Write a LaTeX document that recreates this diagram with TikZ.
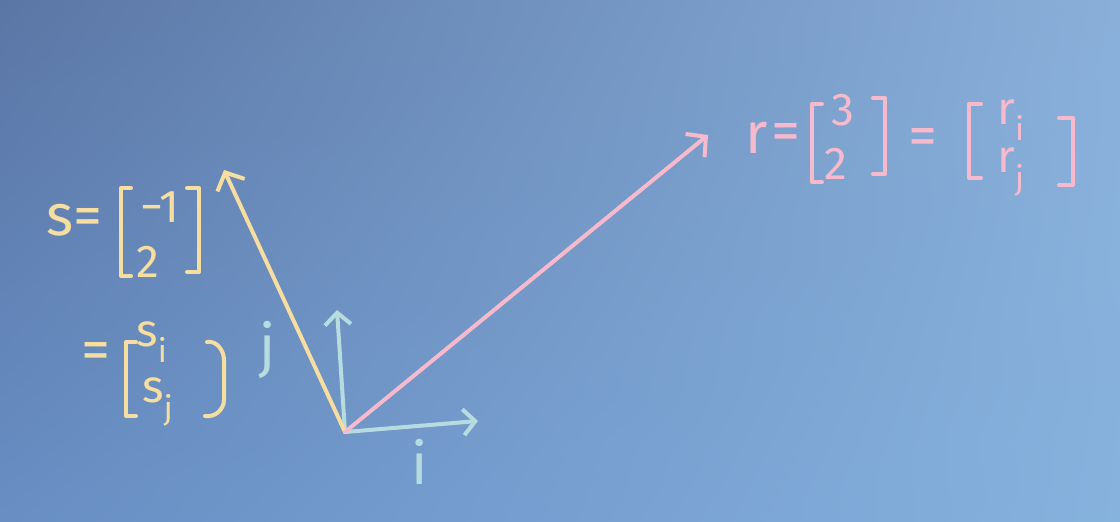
\documentclass[tikz,border=0pt]{standalone}
\usepackage{fontspec}
\setmainfont{Fira Sans}
\usepackage{xcolor}
\usetikzlibrary{arrows.meta}
\usetikzlibrary{shadings}
\definecolor{boardTL}{RGB}{90,118,165}
\definecolor{boardTR}{RGB}{138,176,218}
\definecolor{boardBL}{RGB}{104,142,196}
\definecolor{boardBR}{RGB}{134,178,222}
\definecolor{chalkS}{RGB}{246,222,160}
\definecolor{chalkR}{RGB}{246,186,204}
\definecolor{chalkB}{RGB}{182,220,224}
\tikzset{
	thickness/.style={line width=4pt, line cap=round, line join=round},
	vec/.style={thickness, -{Straight Barb[length=14pt,width=30pt,line width=4pt]}, #1},
	basis/.style={thickness, -{Straight Barb[length=12pt,width=26pt,line width=4pt]}, #1},
	chalk/.style={text=#1, font=\fontsize{58}{60}\selectfont, inner sep=0pt},
	entry/.style={text=#1, font=\fontsize{46}{48}\selectfont, inner sep=0pt},
	brak/.style={thickness, draw=#1},
}
% bracket: colour, x, top, bottom, tick
\newcommand{\brak}[5]{\draw[brak=#1] (#2+#5,#3) -- (#2,#3) -- (#2,#4) -- (#2+#5,#4);}

\begin{document}
\begin{tikzpicture}[x=1pt, y=-1pt]
%The board
\shade[upper left=boardTL, upper right=boardTR, lower left=boardBL, lower right=boardBR]
	(0,0) rectangle (1120,522);
\useasboundingbox (0,0) rectangle (1120,522);

%Place the points
\coordinate (o) at (345,432);
\coordinate (itip) at (478,421);
\coordinate (jtip) at (337,310);
\coordinate (stip) at (224,170);
\coordinate (rtip) at (708,135);

%Vectors
\draw[basis=chalkB] (o) to (itip);
\draw[basis=chalkB] (o) to (jtip);
\draw[vec=chalkS] (o) to (stip);
\draw[vec=chalkR] (o) to (rtip);

%Basis labels
\node[chalk=chalkB] (jlab) at (268,350) {j};
\node[chalk=chalkB] (ilab) at (420,462) {i};

%s = [-1, 2]
\node[chalk=chalkS] (sname) at (60,220) {s};
\node[chalk=chalkS] (seq) at (88,222) {=};
\node[entry=chalkS] (s1) at (160,207) {−1};
\node[entry=chalkS] (s2) at (148,262) {2};
\brak{chalkS}{121}{188}{276}{10}
\brak{chalkS}{199}{188}{272}{-12}

%  = [s_i, s_j]
\node[chalk=chalkS] (seq2) at (96,356) {=};
\node[entry=chalkS] (si) at (152,342) {s\textsubscript{i}};
\node[entry=chalkS] (sj) at (158,402) {s\textsubscript{j}};
\brak{chalkS}{126}{342}{416}{10}
\draw[brak=chalkS] (207,342) to[out=10,in=90] (224,360) -- (224,400) to[out=-90,in=-10] (205,416);

%r = [3, 2] = [r_i, r_j]
\node[chalk=chalkR] (rname) at (757,138) {r};
\node[chalk=chalkR] (req) at (786,137) {=};
\node[entry=chalkR] (r1) at (843,110) {3};
\node[entry=chalkR] (r2) at (836,164) {2};
\brak{chalkR}{812}{104}{182}{10}
\brak{chalkR}{885}{98}{174}{-12}
\node[chalk=chalkR] (req2) at (923,142) {=};
\node[entry=chalkR] (ri) at (1011,120) {r\textsubscript{i}};
\node[entry=chalkR] (rj) at (1011,172) {r\textsubscript{j}};
\brak{chalkR}{969}{104}{178}{12}
\brak{chalkR}{1073}{118}{185}{-14}

\end{tikzpicture}
\end{document}
